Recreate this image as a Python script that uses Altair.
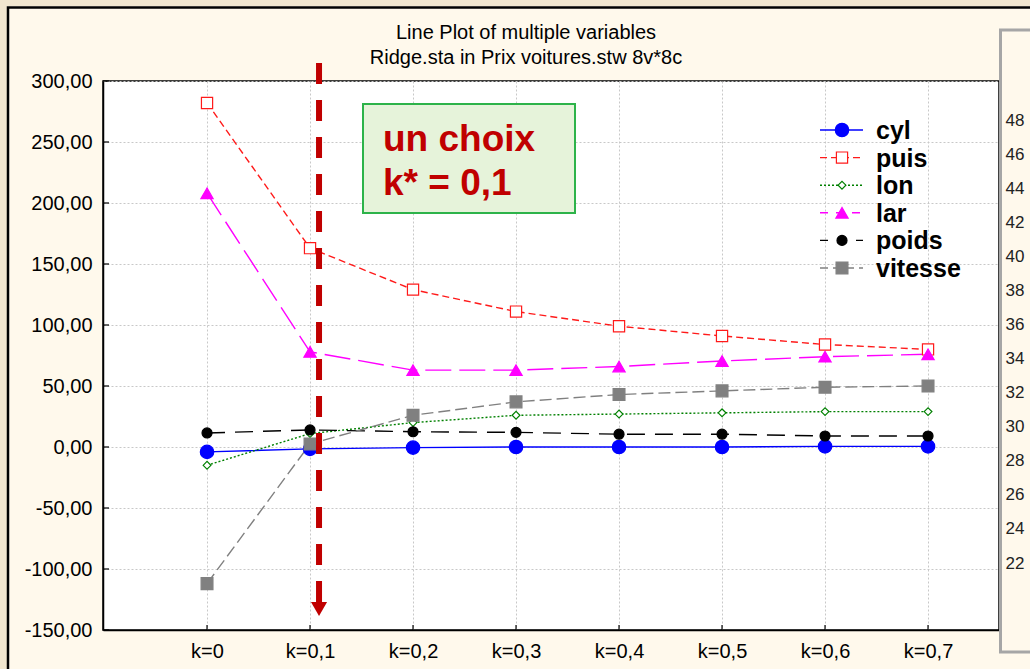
import altair as alt
import pandas as pd

# ---- data -------------------------------------------------------------
k_values = [0.0, 0.1, 0.2, 0.3, 0.4, 0.5, 0.6, 0.7]
series_names = ["cyl", "puis", "lon", "lar", "poids", "vitesse"]
cyl = [-4, -1.5, -0.5, 0, 0, 0, 0.5, 0.5]
puis = [282, 163, 129, 111, 99, 91, 84, 80]
lon = [-15, 11, 20, 26, 27, 28, 29, 29]
lar = [208, 78, 63, 63, 66, 70.5, 74, 76]
poids = [11.5, 14, 12.5, 12, 10.5, 10.5, 9, 9]
vitesse = [-112, 2.5, 26, 37, 43, 46, 49, 50]
y_ticks = [-150, -100, -50, 0, 50, 100, 150, 200, 250, 300]
side_ticks = [22, 24, 26, 28, 30, 32, 34, 36, 38, 40, 42, 44, 46, 48]
chosen_k = 0.1
title_lines = ["Line Plot of multiple variables", "Ridge.sta in Prix voitures.stw 8v*8c"]

columns = {"cyl": cyl, "puis": puis, "lon": lon, "lar": lar, "poids": poids, "vitesse": vitesse}
df = pd.DataFrame(
    [{"k": k, "value": v, "series": s} for s in series_names for k, v in zip(k_values, columns[s])]
)

# ---- layout -----------------------------------------------------------
FONT = "Liberation Sans"
LEFT, TOP = 103, 81
W, H = 896, 549
K_MIN = -0.101
K_MAX = K_MIN + W / 1030.0
Y_MIN, Y_MAX = -150, 300
CREAM = "#fff9ec"
PARCHMENT = "#f1e6cf"
DARK_RED = "#c00000"


def kx(px):
    """page x pixel -> k value"""
    return K_MIN + (px - LEFT) / W * (K_MAX - K_MIN)


def vy(py):
    """page y pixel -> value"""
    return Y_MAX - (py - TOP) / H * (Y_MAX - Y_MIN)


styles = {
    "cyl": dict(color="#0000ff", dash=None, shape="circle", size=180, fill="#0000ff"),
    "puis": dict(color="#ff1a1a", dash=[7, 4], shape="square", size=125, fill="#ffffff"),
    "lon": dict(color="#008000", dash=[2, 2], shape="diamond", size=60, fill="#ffffff"),
    "lar": dict(color="#ff00ff", dash=[26, 8], shape="triangle-up", size=150, fill="#ff00ff"),
    "poids": dict(color="#000000", dash=[18, 10], shape="circle", size=100, fill="#000000"),
    "vitesse": dict(color="#808080", dash=[12, 5], shape="square", size=140, fill="#808080"),
}

x_scale = alt.Scale(domain=[K_MIN, K_MAX], nice=False, zero=False)
y_scale = alt.Scale(domain=[Y_MIN, Y_MAX], nice=False, zero=False)

x_axis = alt.Axis(
    values=k_values,
    labelExpr="datum.value == 0 ? 'k=0' : 'k=' + replace(format(datum.value, '.1f'), '.', ',')",
    grid=True, gridColor="#c8c8c8", gridDash=[2, 2], gridWidth=1,
    domainColor="black", domainWidth=1.5, ticks=False,
    labelFont=FONT, labelFontSize=20, labelColor="black", labelPadding=11,
    title=None,
)
y_axis = alt.Axis(
    values=y_ticks,
    labelExpr="replace(replace(format(datum.value, '.2f'), '.', ','), '\u2212', '-')",
    grid=True, gridColor="#c8c8c8", gridDash=[2, 2], gridWidth=1,
    domainColor="black", domainWidth=1.5, ticks=False,
    labelFont=FONT, labelFontSize=20, labelColor="black", labelPadding=11,
    title=None,
)


def X(field):
    return alt.X(field, scale=x_scale, axis=x_axis, title=None)


def Y(field):
    return alt.Y(field, scale=y_scale, axis=y_axis, title=None)


def XD(v):
    return alt.X(datum=v, scale=x_scale, axis=x_axis, title=None)


def YD(v):
    return alt.Y(datum=v, scale=y_scale, axis=y_axis, title=None)


one = pd.DataFrame({"a": [0]})
layers = []

# frame around the panel: parchment margin and black border
layers.append(alt.Chart(one).mark_rect(fill=PARCHMENT).encode(
    x=alt.value(-LEFT), x2=alt.value(-LEFT + 7), y=alt.value(-TOP), y2=alt.value(H + 40)))
layers.append(alt.Chart(one).mark_rect(fill=PARCHMENT).encode(
    x=alt.value(-LEFT), x2=alt.value(W + 40), y=alt.value(-TOP), y2=alt.value(-TOP + 6)))
layers.append(alt.Chart(one).mark_rect(fill=None, stroke="black", strokeWidth=2.5).encode(
    x=alt.value(-LEFT + 8), x2=alt.value(W + 60), y=alt.value(-TOP + 7.5), y2=alt.value(H + 60)))

# two-line title above the plot
for line, page_y in zip(title_lines, [33, 58]):
    layers.append(alt.Chart(one).mark_text(
        text=line, font=FONT, fontSize=20, color="black", align="center", baseline="middle").encode(
        x=alt.value(526 - LEFT), y=alt.value(page_y - TOP)))

# inward ticks
layers.append(alt.Chart(pd.DataFrame({"v": y_ticks})).mark_rule(color="black", strokeWidth=1.2).encode(
    y=Y("v:Q"), x=alt.value(0), x2=alt.value(6)))
layers.append(alt.Chart(pd.DataFrame({"k": k_values})).mark_rule(color="black", strokeWidth=1.2).encode(
    x=X("k:Q"), y=alt.value(H), y2=alt.value(H - 5)))

# series lines
for s in series_names:
    st = styles[s]
    props = dict(stroke=st["color"], strokeWidth=1.4)
    if st["dash"]:
        props["strokeDash"] = st["dash"]
    layers.append(
        alt.Chart(df).transform_filter(alt.datum.series == s).mark_line(**props).encode(
            x=X("k:Q"), y=Y("value:Q"))
    )

# series markers
for s in series_names:
    st = styles[s]
    layers.append(
        alt.Chart(df).transform_filter(alt.datum.series == s).mark_point(
            shape=st["shape"], size=st["size"], fill=st["fill"], stroke=st["color"],
            strokeWidth=1.2, opacity=1, filled=True,
        ).encode(x=X("k:Q"), y=Y("value:Q"))
    )

# chosen-k arrow
arrow_top, arrow_bottom = vy(63), vy(602)
layers.append(alt.Chart(one).mark_rule(
    color=DARK_RED, strokeWidth=6, strokeDash=[21, 16], xOffset=9).encode(
    x=XD(chosen_k), y=YD(arrow_top), y2=alt.Y2(datum=arrow_bottom)))
layers.append(alt.Chart(one).mark_point(
    shape="triangle-down", size=260, filled=True, color=DARK_RED, opacity=1, xOffset=9).encode(
    x=XD(chosen_k), y=YD(vy(609))))

# annotation box
layers.append(alt.Chart(one).mark_rect(fill="#e6f3da", stroke="#2db34a", strokeWidth=2).encode(
    x=XD(kx(363)), x2=alt.X2(datum=kx(575)), y=YD(vy(104)), y2=alt.Y2(datum=vy(213))))
k_label = "k* = " + str(chosen_k).replace(".", ",")
for text, py in [("un choix", 151), (k_label, 195)]:
    layers.append(alt.Chart(one).mark_text(
        text=text, font=FONT, fontSize=37, fontWeight="bold", color=DARK_RED,
        align="left", baseline="alphabetic").encode(x=XD(kx(383)), y=YD(vy(py))))

# legend
for i, s in enumerate(series_names):
    st = styles[s]
    row_v = vy(130 + 27.6 * i)
    rprops = dict(stroke=st["color"], strokeWidth=1.4)
    if st["dash"]:
        rprops["strokeDash"] = [min(st["dash"][0], 8), st["dash"][1]] if s != "lon" else st["dash"]
    layers.append(alt.Chart(one).mark_rule(**rprops).encode(
        x=XD(kx(820)), x2=alt.X2(datum=kx(863)), y=YD(row_v)))
    layers.append(alt.Chart(one).mark_point(
        shape=st["shape"], size=st["size"], fill=st["fill"], stroke=st["color"],
        strokeWidth=1.2, opacity=1, filled=True).encode(x=XD(kx(842)), y=YD(row_v)))
    layers.append(alt.Chart(one).mark_text(
        text=s, font=FONT, fontSize=25, fontWeight="bold", color="black",
        align="left", baseline="middle", dy=1).encode(x=XD(kx(876)), y=YD(row_v)))

# neighbouring panel on the right edge
layers.append(alt.Chart(one).mark_rect(fill=CREAM, stroke="#a6a6a6", strokeWidth=3).encode(
    x=alt.value(W + 1.5), x2=alt.value(W + 80), y=alt.value(30 - TOP), y2=alt.value(652 - TOP)))

main = alt.layer(*layers)

# the right panel's own value scale (48 at page y 120, 22 at page y 563)
px_per_unit = (563 - 120) / (48 - 22)
side_top = 48 + (120 - TOP) / px_per_unit
side_bottom = 48 - (TOP + H - 120) / px_per_unit
side = alt.Chart(pd.DataFrame({"r": [side_bottom, side_top]})).mark_point(opacity=0).encode(
    y=alt.Y("r:Q", scale=alt.Scale(domain=[side_bottom, side_top], nice=False, zero=False),
            axis=alt.Axis(orient="right", values=side_ticks, domain=False, ticks=False, grid=False,
                          labelFont=FONT, labelFontSize=17, labelColor="#222222",
                          labelPadding=6, zindex=1, title=None))
)

chart = alt.layer(main, side).resolve_scale(y="independent").properties(
    width=W, height=H,
    autosize=alt.AutoSizeParams(type="none"),
    padding={"left": LEFT, "top": TOP, "right": 1030 - LEFT - W, "bottom": 669 - TOP - H},
    background=CREAM,
).configure_view(stroke="black", strokeWidth=1.5, fill="white")

chart.save("out.html", embed_options={"renderer": "svg", "actions": False})
